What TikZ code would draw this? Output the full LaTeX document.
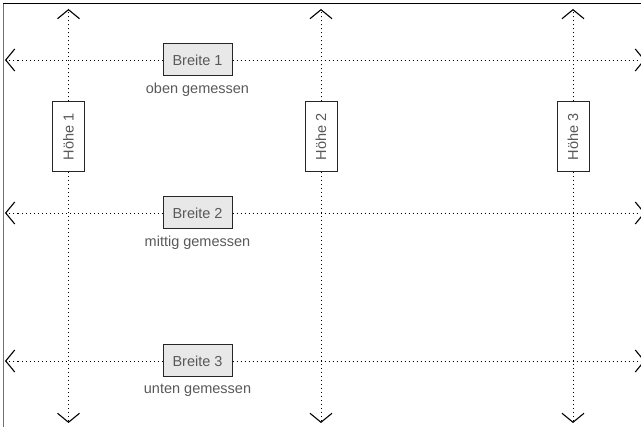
\documentclass[tikz,border=0pt]{standalone}
\usepackage{fontspec}
\setmainfont{Liberation Sans}
\usetikzlibrary{arrows.meta,positioning}

\begin{document}
\begin{tikzpicture}[x=1pt,y=-1pt,
		>={Straight Barb[length=9pt,width=22pt,line width=1.1pt]},
		font=\fontsize{14.5}{17}\selectfont,
		messlinie/.style={line width=0.9pt,dash pattern=on 1pt off 3pt},
		breite/.style={draw=black!85,line width=1pt,fill=black!9,text=black!65,minimum width=69pt,minimum height=32pt,inner sep=0pt},
		hoehe/.style={draw=black!85,line width=1pt,fill=white,text=black!65,minimum width=70pt,minimum height=32pt,inner sep=0pt,rotate=90},
		notiz/.style={text=black!65,inner sep=0pt}]
			\useasboundingbox (0,0) rectangle (641,427);
			% Rahmen
			\draw[black!55,line width=1.2pt] (3.5,3.5) -- (3.5,427);
			\draw[black,line width=1.4pt] (3,3.5) -- (641,3.5);
			% Breiten
			\node[breite] (b1) at (197.5,60) {Breite 1};
			\node[breite] (b2) at (197.5,213) {Breite 2};
			\node[breite] (b3) at (197.5,361) {Breite 3};
			\node[notiz] [below=6pt of b1] (n1) {oben gemessen};
			\node[notiz] [below=6pt of b2] (n2) {mittig gemessen};
			\node[notiz] [below=6pt of b3] (n3) {unten gemessen};
			% Hoehen
			\node[hoehe] (h1) at (68.5,137) {Höhe 1};
			\node[hoehe] (h2) at (321,137) {Höhe 2};
			\node[hoehe] (h3) at (573,137) {Höhe 3};
			% Endpunkte
			\foreach \i/\y in {1/60,2/213,3/361} {
				\coordinate (l\i) at (5,\y);
				\coordinate (r\i) at (645,\y);
			}
			\foreach \i/\x in {1/68.5,2/321,3/573} {
				\coordinate (o\i) at (\x,9);
				\coordinate (u\i) at (\x,423);
			}
			\foreach \i in {1,2,3} {
				\draw[messlinie,->] (b\i) -- (l\i);
				\draw[messlinie,->] (b\i) -- (r\i);
				\draw[messlinie,->] (h\i) -- (o\i);
				\draw[messlinie,->] (h\i) -- (u\i);
			}
		\end{tikzpicture}
\end{document}
